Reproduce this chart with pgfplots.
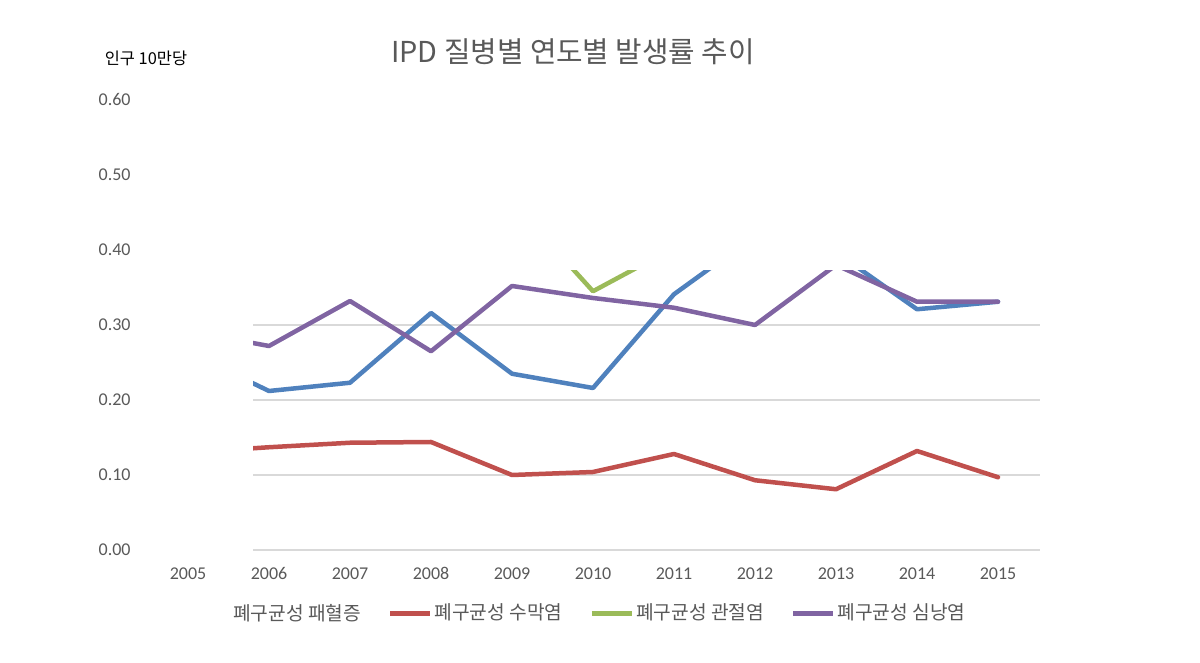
\documentclass[border=0pt]{standalone}
\usepackage{fontspec}
\setmainfont{Carlito}
\newfontfamily\kr{Noto Sans CJK KR}
\usepackage{pgfplots}
\pgfplotsset{compat=1.18}

\definecolor{cBlue}{HTML}{4F81BD}
\definecolor{cRed}{HTML}{C0504D}
\definecolor{cGreen}{HTML}{9BBB59}
\definecolor{cPurple}{HTML}{8064A2}
\definecolor{cGrid}{HTML}{D9D9D9}
\definecolor{cText}{HTML}{595959}

% 1 px of the reference = 0.5pt
\begin{document}
\begin{tikzpicture}
\useasboundingbox (0,0) rectangle (600pt,331.5pt);

% tick labels only, full 0--0.6 range
\begin{axis}[
  at={(94pt,56.5pt)}, anchor=south west,
  x=40.5pt, y=375pt,
  xmin=2005, xmax=2015, ymin=0, ymax=0.6,
  axis line style={draw=none}, tick style={draw=none},
  xtick={2005,2006,2007,2008,2009,2010,2011,2012,2013,2014,2015},
  ytick={0,0.1,0.2,0.3,0.4,0.5,0.6},
  /pgf/number format/assume math mode=true,
  xticklabel style={font=\fontsize{9}{10}\selectfont, text=cText, inner sep=0pt,
    anchor=base, yshift=-15pt, /pgf/number format/1000 sep={}},
  yticklabel style={font=\fontsize{9}{10}\selectfont, text=cText, inner sep=0pt,
    anchor=east, xshift=-28.5pt,
    /pgf/number format/.cd, fixed, fixed zerofill, precision=2},
]
\addplot[draw=none] coordinates {(2005,0)};
\end{axis}

% plot area, clipped at about 0.373
\begin{axis}[
  at={(126.5pt,56.5pt)}, anchor=south west,
  x=40.5pt, y=375pt,
  xmin=2005.8025, xmax=2015.52, ymin=0, ymax=0.3733,
  axis line style={draw=none}, tick style={draw=none},
  xtick=\empty, ytick={0,0.1,0.2,0.3}, yticklabel=\empty,
  ymajorgrids, grid style={line width=1.2pt, cGrid},
  clip=true,
  every axis plot/.append style={line width=2.25pt, line join=round, line cap=round},
  legend columns=4,
  legend style={at={(0.44,-0.227)}, anchor=center, draw=none, fill=none,
    font=\kr\fontsize{9.6}{11}\selectfont, text=cText,
    nodes={inner xsep=1pt},
    /tikz/every even column/.append style={column sep=12.5pt}},
  legend image code/.code={\draw[#1, line cap=butt] (0pt,0pt) -- (20pt,0pt);},
]
\addlegendimage{empty legend}
\addlegendentry{폐구균성 패혈증}
\addplot[cBlue, forget plot] coordinates {
  (2005,0.264) (2006,0.212) (2007,0.223) (2008,0.316) (2009,0.235) (2010,0.216)
  (2011,0.341) (2012,0.419) (2013,0.397) (2014,0.321) (2015,0.331)};
\addplot[cRed] coordinates {
  (2005,0.130) (2006,0.137) (2007,0.143) (2008,0.144) (2009,0.100) (2010,0.104)
  (2011,0.128) (2012,0.093) (2013,0.081) (2014,0.132) (2015,0.097)};
\addlegendentry{폐구균성 수막염}
\addplot[cGreen] coordinates {
  (2005,0.450) (2006,0.500) (2007,0.480) (2008,0.520) (2009,0.464) (2010,0.345)
  (2011,0.403) (2012,0.450) (2013,0.420) (2014,0.440) (2015,0.410)};
\addlegendentry{폐구균성 관절염}
\addplot[cPurple] coordinates {
  (2005,0.292) (2006,0.272) (2007,0.332) (2008,0.265) (2009,0.352) (2010,0.336)
  (2011,0.323) (2012,0.300) (2013,0.380) (2014,0.331) (2015,0.331)};
\addlegendentry{폐구균성 심낭염}
\end{axis}

\node[font=\kr\fontsize{14.4}{16}\selectfont, text=cText] at (286.5pt,305.5pt)
  {IPD 질병별 연도별 발생률 추이};
\node[font=\kr\fontsize{8.2}{9}\selectfont] at (73pt,302.5pt) {인구 10만당};
\end{tikzpicture}
\end{document}
